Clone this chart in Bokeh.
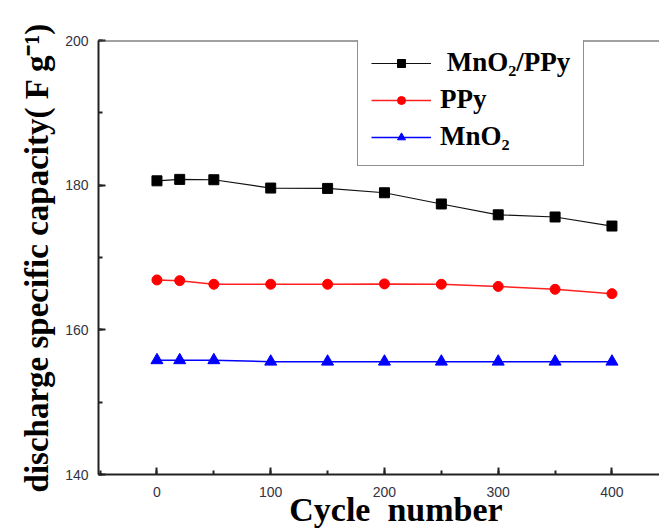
from bokeh.plotting import figure
from bokeh.models import Range1d, SingleIntervalTicker, Legend, LegendItem, Span
from bokeh.embed import file_html
from bokeh.resources import INLINE

cycles = [0, 20, 50, 100, 150, 200, 250, 300, 350, 400]
mno2_ppy = [180.6, 180.8, 180.75, 179.6, 179.55, 178.95, 177.4, 175.9, 175.6, 174.35]
ppy = [166.9, 166.8, 166.3, 166.3, 166.3, 166.35, 166.3, 166.0, 165.6, 165.0]
mno2 = [155.8, 155.8, 155.8, 155.6, 155.6, 155.6, 155.6, 155.6, 155.6, 155.6]
series_labels = ["\u00a0MnO\u2082/PPy", "PPy", "MnO\u2082"]
x_label = "\u00a0\u00a0\u00a0\u00a0Cycle\u00a0\u00a0number"
y_label = "discharge specific capacity( F g\u207b\u00b9)"
x_start, x_end = -51.4, 441.8
y_start, y_end = 140, 200

p = figure(width=659, height=530,
           x_range=Range1d(x_start, x_end), y_range=Range1d(y_start, y_end),
           output_backend="svg", toolbar_location=None,
           min_border_left=98, min_border_right=0, min_border_top=40, min_border_bottom=56)
p.outline_line_color = None
p.xgrid.visible = False
p.ygrid.visible = False
p.background_fill_color = None
p.border_fill_color = None

l1 = p.line(cycles, mno2_ppy, line_color="#111111", line_width=1.2)
s1 = p.scatter(cycles, mno2_ppy, marker="square", size=10, fill_color="black", line_color="black")
l2 = p.line(cycles, ppy, line_color="#ff2020", line_width=1.5)
s2 = p.scatter(cycles, ppy, marker="circle", size=10, fill_color="#ff0000", line_color="#ff0000")
l3 = p.line(cycles, mno2, line_color="#0000ff", line_width=1.5)
s3 = p.scatter(cycles, mno2, marker="triangle", size=12, fill_color="#0000ff", line_color="#0000ff")

for ax in (p.xaxis[0], p.yaxis[0]):
    ax.axis_line_color = "#222222"
    ax.axis_line_width = 2
    ax.major_tick_line_color = "#222222"
    ax.minor_tick_line_color = "#222222"
    ax.major_tick_line_width = 2
    ax.minor_tick_line_width = 2
    ax.major_tick_in = 7
    ax.major_tick_out = 0
    ax.minor_tick_in = 4
    ax.minor_tick_out = 0
    ax.major_label_text_font = "Liberation Sans"
    ax.major_label_text_font_size = "14px"
    ax.major_label_text_color = "#333344"
    ax.axis_label_text_font = "Liberation Serif"
    ax.axis_label_text_font_style = "bold"
    ax.axis_label_text_color = "black"

p.xaxis[0].ticker = SingleIntervalTicker(interval=100, num_minor_ticks=2)
p.yaxis[0].ticker = SingleIntervalTicker(interval=20, num_minor_ticks=2)
p.xaxis[0].major_label_standoff = 12
p.yaxis[0].major_label_standoff = 10
p.xaxis[0].axis_label = x_label
p.xaxis[0].axis_label_text_font_size = "34px"
p.xaxis[0].axis_label_standoff = -9
p.yaxis[0].axis_label = y_label
p.yaxis[0].axis_label_text_font_size = "33px"
p.yaxis[0].axis_label_standoff = 7

p.add_layout(Span(location=y_end, dimension="width", line_color="#444444", line_width=1.8, level="overlay"))

legend = Legend(items=[LegendItem(label=series_labels[0], renderers=[l1, s1]),
                       LegendItem(label=series_labels[1], renderers=[l2, s2]),
                       LegendItem(label=series_labels[2], renderers=[l3, s3])],
                location=(259, 308), margin=0, padding=13, spacing=6,
                glyph_width=60, glyph_height=20, label_standoff=9,
                label_text_font="Liberation Serif", label_text_font_style="bold",
                label_text_font_size="27px", label_text_color="black",
                border_line_color="#222222", border_line_width=1.5,
                background_fill_color="white", background_fill_alpha=1)
p.add_layout(legend)

open("out.html", "w").write(file_html(p, INLINE))
